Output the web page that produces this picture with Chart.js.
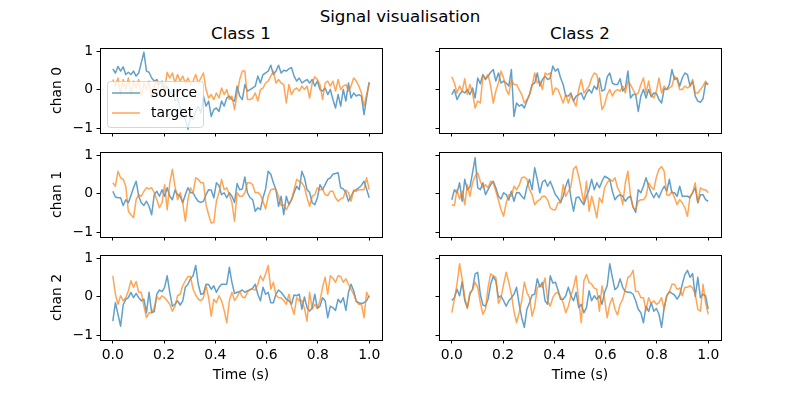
<!DOCTYPE html>
<html>
<head>
<meta charset="utf-8">
<title>Signal visualisation</title>
<script src="https://cdn.jsdelivr.net/npm/chart.js@4.4.1/dist/chart.umd.min.js"></script>
<style>
  html, body { margin: 0; padding: 0; background: #fff; }
  #fig { position: relative; width: 800px; height: 400px; overflow: hidden; font-family: 'DejaVu Sans', sans-serif; }
  #fig canvas { position: absolute; }
  .txt { position: absolute; white-space: nowrap; color: #000; font-size: 16.7px; line-height: 20px; text-align: center; }
</style>
</head>
<body>
<div id="fig">
  <div class="txt" style="left:0; width:800px; top:6px;">Signal visualisation</div>
</div>
<script>
// labels
const CLASSES = ['Class 1', 'Class 2'];
const CHANNELS = ['chan 0', 'chan 1', 'chan 2'];
const SERIES = ['source', 'target'];
const X_TICKS = [0, 0.2, 0.4, 0.6, 0.8, 1.0];
const Y_TICKS = [-1, 0, 1];
const N_SAMPLES = 100;

// Class 1 / chan 0
const c1ch0Source = [
  0.54, 0.43, 0.6, 0.48, 0.59, 0.39, 0.45, 0.39, 0.48, 0.35,
  0.43, 0.7, 0.97, 0.48, 0.45, 0.3, 0.22, 0.26, 0.13, 0.22,
  0, 0.09, -0.13, 0, -0.3, -0.22, -0.48, -0.65, -0.78, -1.03,
  -0.7, -0.78, -0.57, -0.43, -0.61, -0.17, -0.43, -0.3, -0.7, -0.52,
  -0.48, -0.57, -0.3, -0.43, -0.22, -0.17, -0.26, -0.3, 0.09, -0.17,
  -0.26, 0.13, -0.04, 0, 0.04, 0.09, 0.35, 0.17, 0.39, 0.43,
  0.48, 0.63, 0.39, 0.48, 0.63, 0.43, 0.5, 0.48, 0.54, 0.57,
  0.35, 0.22, 0.3, 0.17, 0.22, 0.26, 0.17, 0.26, 0.09, 0.22,
  0, -0.04, 0.04, -0.13, 0, -0.26, -0.48, -0.13, -0.43, 0,
  -0.3, 0.17, -0.22, -0.09, -0.17, -0.13, -0.17, -0.65, -0.22, 0.19
];
const c1ch0Target = [
  0.26, 0.09, 0.3, -0.13, 0.26, 0, 0.3, -0.13, 0.22, 0.04,
  0.26, -0.17, 0.17, 0, 0.22, -0.22, 0.09, 0.26, -0.17, 0.13,
  0, 0.45, 0.3, 0.43, 0.17, 0.39, 0.22, 0.35, 0.17, 0.3,
  0.13, 0.22, 0.39, 0.17, 0.3, 0.43, 0, -0.22, -0.13, -0.26,
  -0.09, -0.22, 0.04, -0.13, 0, -0.26, -0.17, -0.52, -0.09, 0.26,
  0.48, 0.48, -0.26, -0.26, -0.22, -0.09, -0.3, 0, 0.04, 0.17,
  0.22, 0.35, 0.48, 0.17, 0.26, 0.17, 0.13, -0.35, 0.13, -0.13,
  0, 0.04, -0.04, 0.09, 0, 0.09, -0.22, 0.17, 0.33, 0.26,
  0.13, -0.26, 0.17, 0.22, 0.09, 0.22, -0.04, 0.26, 0, 0.09,
  0.13, -0.04, 0.09, 0.3, 0.22, 0.09, -0.09, -0.43, -0.13, 0.17
];
// Class 2 / chan 0
const c2ch0Source = [
  -0.13, 0, -0.26, -0.13, -0.04, -0.09, 0, -0.13, 0.04, -0.22,
  0.3, 0.15, 0.39, 0.26, 0.35, 0.45, 0.52, 0.22, 0.43, 0.17,
  0.22, 0.17, 0.09, 0.52, -0.7, -0.35, -0.43, -0.39, -0.48, -0.3,
  -0.13, 0.13, 0.17, 0.43, 0.09, 0.26, 0.35, 0.26, 0.3, 0.61,
  0.48, 0.54, 0.3, 0.13, -0.17, -0.17, -0.09, -0.3, -0.17, -0.13,
  -0.09, -0.26, -0.09, 0, -0.09, 0.09, 0, 0.3, -0.04, 0,
  0.33, 0.43, 0.17, 0.13, 0.13, 0.28, -0.04, 0.04, 0.48, -0.22,
  -0.13, -0.13, -0.57, -0.17, 0, -0.22, 0, -0.19, -0.09, -0.1,
  -0.26, -0.35, 0.02, 0, 0.13, 0.52, 0.26, 0.3, 0.09, 0.3,
  0.43, 0.39, 0.09, 0.22, -0.17, -0.3, -0.33, -0.24, 0.17, 0.13
];
const c2ch0Target = [
  0.33, 0.17, -0.09, 0.09, -0.04, 0.28, -0.13, 0.13, -0.09, -0.48,
  -0.3, -0.35, 0.35, 0.3, 0.39, 0.09, -0.35, -0.04, 0.17, 0.48,
  0.3, 0, -0.13, 0.26, 0.13, 0.13, 0, -0.13, -0.35, -0.26,
  -0.13, 0.09, 0.43, 0.17, 0.22, 0, 0.43, 0.39, 0.43, -0.13,
  0.04, 0, -0.17, -0.35, -0.13, -0.35, -0.13, -0.3, -0.43, 0,
  0.26, -0.09, 0, 0.09, 0.3, 0.43, 0.39, 0, -0.52, -0.39,
  -0.13, 0, -0.17, -0.04, 0, -0.04, 0.09, -0.09, 0.22, 0.13,
  0, -0.13, -0.09, 0.13, 0.3, -0.09, 0.22, -0.13, -0.22, -0.04,
  0.3, -0.09, 0.09, 0, 0.04, 0.09, 0.35, 0.26, 0, 0,
  0.09, 0.04, 0.09, 0.26, -0.09, -0.09, 0, 0.09, 0.22, 0.13
];
// Class 1 / chan 1
const c1ch1Source = [
  0.06, -0.09, -0.11, -0.11, -0.31, -0.16, -0.24, -0.05, 0.15, 0.32,
  -0.07, -0.24, -0.31, -0.2, -0.33, -0.55, -0.03, 0.06, -0.07, 0.1,
  -0.07, 0.15, -0.07, -0.16, 0.09, -0.03, -0.07, -0.24, -0.03, 0.15,
  0.02, 0.02, -0.11, -0.2, -0.23, -0.2, -0.03, 0.1, 0.09, -0.11,
  0.28, 0.21, -0.03, 0.02, -0.11, 0.02, -0.07, -0.23, 0.26, 0.1,
  0.12, 0.43, 0.02, -0.11, -0.16, -0.46, -0.37, -0.42, -0.11, 0.12,
  0.58, 0.5, 0.28, 0.1, -0.33, -0.07, -0.55, -0.07, -0.29, -0.16,
  0.02, 0.19, 0.1, 0.58, 0.41, 0.1, 0.03, -0.24, -0.29, -0.11,
  0.23, 0.1, 0.23, 0.37, 0.41, 0.5, 0.52, 0.54, 0.15, 0.12,
  0.02, -0.2, -0.07, 0.06, 0.1, 0.15, 0.21, 0.32, 0.12, -0.11
];
const c1ch1Target = [
  0.28, 0.19, 0.58, 0.41, 0.37, 0.19, -0.46, -0.55, -0.63, -0.16,
  -0.03, -0.07, 0.06, 0.15, 0.12, 0.15, 0.02, -0.16, -0.37, -0.24,
  0.23, -0.42, 0.28, 0.63, 0.19, -0.16, 0.02, -0.24, -0.72, -0.16,
  0.15, 0.02, 0.41, 0.37, 0.28, 0.28, -0.29, -0.55, -0.77, -0.75,
  -0.2, 0.02, 0.37, 0.1, 0.15, -0.03, -0.24, -0.72, 0.02, -0.07,
  -0.07, 0.02, 0.28, 0.28, 0.23, 0.02, 0.03, -0.04, -0.2, -0.4,
  -0.07, 0.1, 0.12, 0.1, -0.07, -0.31, -0.29, -0.42, -0.29, -0.16,
  0.1, 0.37, 0.32, 0.28, 0.17, -0.11, -0.33, -0.07, -0.03, 0.15,
  0.09, 0.12, -0.03, -0.05, 0.06, 0.06, -0.11, -0.2, -0.14, -0.11,
  0.09, 0.02, -0.2, 0.09, 0.06, 0.1, 0.1, 0.1, 0.41, 0.1
];
// Class 2 / chan 1
const c2ch1Source = [
  -0.16, 0.1, 0.02, 0.28, -0.2, 0.37, 0.1, 0.17, 0.54, 0.93,
  0.15, 0.1, 0.28, -0.03, 0.1, 0.23, 0.32, 0.15, -0.07, -0.14,
  0.02, -0.03, -0.17, 0.06, -0.2, 0.03, 0.02, -0.07, -0.14, 0.17,
  0.37, 0.1, 0.67, 0.37, 0.02, 0.3, 0.35, 0.19, 0.32, 0.15,
  -0.03, -0.11, -0.23, -0.07, 0.19, 0.37, -0.11, -0.46, -0.11, -0.09,
  -0.2, -0.29, -0.07, 0.1, 0.37, 0.1, 0.28, 0.15, 0.32, 0.45,
  0.41, 0.37, 0.06, -0.16, -0.07, -0.03, -0.07, -0.2, -0.11, -0.07,
  -0.35, -0.49, 0.1, 0.02, 0.19, 0.41, 0.19, 0.02, -0.11, 0.02,
  -0.11, 0.06, 0.19, 0.06, 0.37, 0.02, 0.02, -0.07, 0.19, -0.07,
  -0.07, -0.07, -0.11, 0.02, 0.15, -0.24, -0.03, -0.03, -0.16, -0.2
];
const c2ch1Target = [
  -0.29, -0.31, 0.1, -0.14, 0.06, -0.29, 0.23, -0.07, 0.28, 0.45,
  0.54, 0.32, 0.15, 0.23, 0.15, 0.32, 0.28, 0.06, -0.17, -0.42,
  -0.59, -0.24, -0.03, -0.07, 0.19, 0.1, 0.21, 0.41, 0.43, 0.37,
  0.1, -0.03, -0.29, -0.2, -0.16, -0.07, -0.07, -0.17, -0.37, -0.42,
  -0.42, -0.24, -0.24, 0.23, -0.07, 0.06, 0.19, 0.64, 0.71, 0.45,
  0.1, -0.25, 0.32, -0.46, -0.07, -0.33, -0.63, -0.11, -0.24, 0.15,
  0.28, 0.37, 0.32, 0.41, 0.15, 0.02, -0.29, 0.28, 0.58, -0.07,
  -0.37, -0.42, -0.2, -0.16, -0.16, -0.07, 0.28, 0.17, 0.1, 0.43,
  0.63, 0.7, 0.58, -0.03, -0.05, 0.06, -0.11, -0.29, -0.16, -0.24,
  -0.37, -0.59, -0.07, 0.02, 0.28, -0.24, 0.15, 0.1, 0.1, 0.02
];
// Class 1 / chan 2
const c1ch2Source = [
  -0.64, -0.16, -0.46, -0.77, -0.22, -0.07, -0.03, 0.11, -0.03, 0.08,
  -0.03, -0.11, -0.07, -0.42, 0.11, -0.42, -0.39, 0.06, 0.17, 0.13,
  0.24, 0.54, 0.11, -0.25, -0.2, -0.11, -0.22, -0.11, 0.24, 0.32,
  0.46, 0.54, 0.81, 0.32, 0.06, 0.08, 0.32, 0.31, 0.19, 0.28,
  0.11, 0.24, 0.32, 0.32, 0.32, 0.76, 0.37, 0.08, 0.11, 0.13,
  0.17, 0.11, 0.15, 0.17, 0.22, 0.32, 0.06, -0.11, 0.24, 0.06,
  0.11, -0.16, -0.16, 0.06, 0.17, 0.11, 0.02, -0.07, -0.11, -0.2,
  0.04, 0.02, 0.06, -0.33, -0.01, -0.29, -0.38, -0.29, 0.06, -0.31,
  -0.25, -0.03, -0.11, -0.55, -0.25, -0.29, -0.36, -0.07, -0.16, -0.03,
  -0.36, 0.11, 0.32, 0.15, -0.13, -0.16, -0.18, -0.16, -0.11, 0.02
];
const c1ch2Target = [
  0.54, 0.06, -0.2, 0.02, -0.11, -0.03, 0.15, 0.41, 0.24, 0.39,
  0.11, 0.11, -0.25, -0.55, -0.42, -0.42, -0.29, -0.01, -0.07, 0.02,
  -0.03, -0.11, -0.2, -0.38, -0.25, 0.02, 0.06, 0.28, 0.41, 0.52,
  0.52, 0.19, 0.04, -0.07, -0.11, -0.03, 0.28, -0.03, -0.51, -0.07,
  -0.16, 0.02, -0.11, -0.36, -0.68, -0.11, 0.11, -0.1, -0.01, 0.13,
  -0.01, -0.03, 0.11, 0.19, 0.19, 0.17, 0.32, 0.54, 0.41, 0.59,
  0.81, 0.19, 0.37, 0.04, -0.03, -0.03, -0.11, -0.2, 0.06, -0.25,
  -0.46, -0.03, -0.11, -0.1, -0.31, -0.64, 0.11, -0.33, -0.2, -0.31,
  -0.11, 0.24, 0.5, 0.06, 0.54, 0.48, 0.37, 0.54, 0.52, 0.37,
  0.46, 0.32, 0.19, 0.06, -0.11, -0.2, -0.2, -0.55, 0.11, -0.03
];
// Class 2 / chan 2
const c2ch2Source = [
  -0.1, -0.03, 0.19, 0.02, 0.39, -0.11, -0.29, 0.06, 0.19, 0.59,
  0.63, 0.06, -0.22, -0.25, -0.07, 0.32, 0.52, 0.41, -0.03, 0.02,
  -0.11, -0.25, -0.11, -0.03, 0.06, 0.24, -0.2, -0.55, -0.8, -0.33,
  -0.16, 0.04, 0.06, 0.46, 0.25, 0.37, -0.11, -0.2, 0.54, 0.35,
  0.37, 0.17, -0.07, -0.07, 0.02, 0.24, 0.02, -0.11, 0.11, -0.29,
  -0.2, -0.42, -0.29, 0.15, -0.11, 0.02, -0.07, 0.02, -0.2, 0.11,
  0.28, 0.85, 0.5, 0.18, 0.24, 0.46, 0.24, 0.13, 0.11, 0.11,
  0.06, -0.11, -0.33, -0.42, -0.68, -0.25, -0.39, -0.16, -0.38, -0.31,
  -0.46, -0.8, -0.29, 0.02, 0.13, 0.08, 0.04, -0.07, 0.04, 0.32,
  0.57, 0.68, 0.5, 0.6, 0, 0.5, -0.03, 0.06, 0.02, -0.33
];
const c2ch2Target = [
  -0.42, -0.07, 0.32, 0.85, 0.46, -0.03, -0.31, 0.11, 0.17, 0.37,
  0.24, -0.16, -0.46, -0.33, 0.24, 0.59, 0.54, 0.5, -0.18, -0.03,
  0.32, 0.63, 0.37, 0.06, -0.38, -0.68, -0.42, -0.11, 0.37, 0.11,
  -0.03, -0.51, -0.27, 0.22, 0.31, 0.24, 0.48, -0.11, -0.25, -0.03,
  0.08, 0.11, -0.01, -0.16, -0.42, -0.25, 0.02, 0.24, 0.54, -0.11,
  -0.68, 0.41, 0.57, 0.37, 0.32, 0.22, 0.19, -0.38, 0.28, -0.07,
  -0.55, -0.2, -0.03, -0.33, -0.48, -0.2, -0.07, 0.19, 0.5, 0.54,
  0.68, 0.13, 0.13, -0.03, -0.03, -0.36, -0.03, -0.18, -0.11, -0.2,
  -0.16, -0.03, -0.33, 0.02, 0.11, 0.32, 0.32, 0.19, 0.22, 0.02,
  0.24, 0.24, 0.28, 0.22, 0.06, -0.33, -0.38, 0.32, -0.16, -0.46
];

// rows = channels, columns = classes
const PANEL_DATA = [
  [[c1ch0Source, c1ch0Target], [c2ch0Source, c2ch0Target]],
  [[c1ch1Source, c1ch1Target], [c2ch1Source, c2ch1Target]],
  [[c1ch2Source, c1ch2Target], [c2ch2Source, c2ch2Target]]
];

// sample times, like np.linspace(0, 1, 100)
const time = Array.from({ length: N_SAMPLES }, (_, i) => i / (N_SAMPLES - 1));

const BLUE = 'rgba(31, 119, 180, 0.7)';
const ORANGE = 'rgba(255, 127, 14, 0.7)';

// layout of the axes boxes, in page pixels
const COL_LEFT = [100, 439];
const ROW_TOP = [48, 152, 255];
const AX_W = 282;
const AX_H = 85;

Chart.defaults.font.family = "'DejaVu Sans', sans-serif";
Chart.defaults.color = '#000';

// full black box around the plot area
const frame = {
  id: 'frame',
  afterDatasetsDraw(chart) {
    const { ctx, chartArea: a } = chart;
    ctx.save();
    ctx.strokeStyle = '#000';
    ctx.lineWidth = 1;
    ctx.strokeRect(Math.round(a.left) + 0.5, Math.round(a.top) + 0.5,
      Math.round(a.right - a.left), Math.round(a.bottom - a.top));
    ctx.restore();
  }
};

// matplotlib-like legend sitting inside the first panel
const insideLegend = {
  id: 'insideLegend',
  afterDraw(chart, args, opts) {
    if (!opts.show) return;
    const { ctx, chartArea } = chart;
    const x = chartArea.left + 7, y = chartArea.top + 33, w = 96, h = 46;
    ctx.save();
    ctx.beginPath();
    ctx.roundRect(x + 0.5, y + 0.5, w, h, 3);
    ctx.fillStyle = 'rgba(255, 255, 255, 0.8)';
    ctx.fill();
    ctx.strokeStyle = 'rgba(204, 204, 204, 0.8)';
    ctx.lineWidth = 1;
    ctx.stroke();
    ctx.font = "13.9px 'DejaVu Sans'";
    ctx.textBaseline = 'middle';
    ctx.fillStyle = '#000';
    chart.data.datasets.forEach((ds, k) => {
      const ly = y + 12 + k * 20;
      ctx.beginPath();
      ctx.moveTo(x + 5, ly);
      ctx.lineTo(x + 33, ly);
      ctx.strokeStyle = ds.borderColor;
      ctx.lineWidth = 1.5;
      ctx.stroke();
      ctx.fillText(ds.label, x + 44, ly);
    });
    ctx.restore();
  }
};

const fig = document.getElementById('fig');

// column titles
CLASSES.forEach((name, c) => {
  const d = document.createElement('div');
  d.className = 'txt';
  d.style.left = COL_LEFT[c] + 'px';
  d.style.width = AX_W + 'px';
  d.style.top = '23px';
  d.textContent = name;
  fig.appendChild(d);
});

const tickFont = { family: "'DejaVu Sans', sans-serif", size: 13.9 };
const fmtY = v => (v < 0 ? '\u2212' + Math.abs(v) : String(v));

function makePanel(r, c) {
  const isLeft = c === 0;
  const isBottom = r === CHANNELS.length - 1;
  const padL = isLeft ? 51 : 10, padR = 10, padT = 12, padB = isBottom ? 44 : 14;

  const canvas = document.createElement('canvas');
  canvas.width = padL + AX_W + padR;
  canvas.height = padT + AX_H + padB;
  canvas.style.left = (COL_LEFT[c] - padL) + 'px';
  canvas.style.top = (ROW_TOP[r] - padT) + 'px';
  fig.appendChild(canvas);

  const [src, tgt] = PANEL_DATA[r][c];

  new Chart(canvas, {
    type: 'line',
    data: {
      datasets: [
        { label: SERIES[0], data: src.map((v, i) => ({ x: time[i], y: v })), borderColor: BLUE, order: 1 },
        { label: SERIES[1], data: tgt.map((v, i) => ({ x: time[i], y: v })), borderColor: ORANGE, order: 0 }
      ]
    },
    options: {
      responsive: false,
      animation: false,
      layout: { padding: { left: 0, right: padR, top: padT, bottom: 0 } },
      elements: {
        point: { radius: 0 },
        line: { borderWidth: 1.5, tension: 0, borderJoinStyle: 'round', fill: false }
      },
      plugins: {
        legend: { display: false },
        tooltip: { enabled: false },
        insideLegend: { show: r === 0 && c === 0 }
      },
      scales: {
        x: {
          type: 'linear',
          min: -0.05,
          max: 1.05,
          afterBuildTicks: ax => { ax.ticks = X_TICKS.map(v => ({ value: v })); },
          afterFit: ax => { ax.height = padB; },
          ticks: {
            font: tickFont, color: '#000', padding: 3.5,
            autoSkip: false, maxRotation: 0, minRotation: 0,
            callback: v => (isBottom ? v.toFixed(1) : '')
          },
          grid: { display: true, drawOnChartArea: false, drawTicks: true, tickLength: 3.5, color: '#000', lineWidth: 1 },
          border: { display: false },
          title: { display: isBottom, text: 'Time (s)', font: tickFont, color: '#000', padding: 0 }
        },
        y: {
          min: -1.13,
          max: 1.08,
          afterBuildTicks: ax => { ax.ticks = Y_TICKS.map(v => ({ value: v })); },
          afterFit: ax => { ax.width = padL; },
          ticks: {
            font: tickFont, color: '#000', padding: 3.5, autoSkip: false,
            callback: v => (isLeft ? fmtY(v) : '')
          },
          grid: { display: true, drawOnChartArea: false, drawTicks: true, tickLength: 3.5, color: '#000', lineWidth: 1 },
          border: { display: false },
          title: { display: isLeft, text: CHANNELS[r], font: tickFont, color: '#000', padding: 0 }
        }
      }
    },
    plugins: [frame, insideLegend]
  });
}

for (let r = 0; r < CHANNELS.length; r++) {
  for (let c = 0; c < CLASSES.length; c++) makePanel(r, c);
}
</script>
</body>
</html>
